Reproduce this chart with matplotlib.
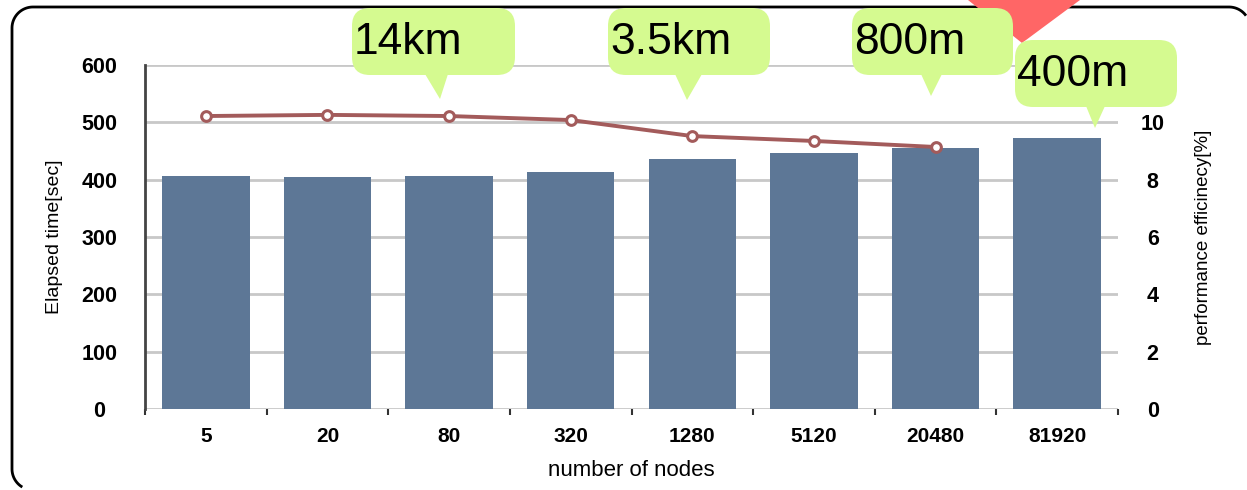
import matplotlib
matplotlib.use("Agg")
import matplotlib.pyplot as plt
from matplotlib.patches import FancyBboxPatch, Polygon, PathPatch
from matplotlib.path import Path
import numpy as np

plt.rcParams["font.family"] = ["Liberation Sans", "DejaVu Sans"]
plt.rcParams["path.simplify"] = False

# ---- data -------------------------------------------------------------
nodes = ["5", "20", "80", "320", "1280", "5120", "20480", "81920"]
elapsed_sec = [406, 405, 406, 413, 436, 446, 455, 473]
efficiency_pct = [10.22, 10.26, 10.22, 10.08, 9.52, 9.35, 9.14]
left_ticks = [0, 100, 200, 300, 400, 500, 600]
right_ticks = [0, 2, 4, 6, 8, 10]
callout_texts = ["14km", "3.5km", "800m", "400m"]

# ---- figure geometry (pixels) ------------------------------------------
W, H = 1247, 490
fig = plt.figure(figsize=(W / 100, H / 100), dpi=100)

ax_l, ax_r, ax_t, ax_b = 145, 1118, 65, 409
ax = fig.add_axes([ax_l / W, 1 - ax_b / H, (ax_r - ax_l) / W, (ax_b - ax_t) / H])

x = np.arange(len(nodes))
bar_color = "#5d7796"
line_color = "#a35b5b"

ax.bar(x, elapsed_sec, width=0.72, color=bar_color, edgecolor="none", zorder=2)
ax.set_xlim(-0.5, len(nodes) - 0.5)
ax.set_ylim(0, 600)
ax.set_yticks(left_ticks)
ax.yaxis.grid(True, color="#c8c8c8", lw=2, zorder=0)
ax.set_axisbelow(True)
for s in ["top", "right", "bottom"]:
    ax.spines[s].set_visible(False)
ax.spines["left"].set_color("#444444")
ax.spines["left"].set_linewidth(2)

ax.set_xticks(x)
ax.set_xticklabels(nodes, fontsize=15, fontweight="bold")
ax.set_xticks(np.arange(-0.5, len(nodes), 1.0), minor=True)
ax.tick_params(axis="x", which="major", length=0, pad=13)
ax.tick_params(axis="x", which="minor", length=4, width=1.5, color="#333333", direction="out")
ax.tick_params(axis="y", length=0, pad=33)
for lab in ax.get_yticklabels():
    lab.set_horizontalalignment("center")
    lab.set_fontsize(15.5)
    lab.set_fontweight("bold")

ax.set_xlabel("number of nodes", fontsize=16, labelpad=10)
ax.set_ylabel("Elapsed time[sec]", fontsize=14, labelpad=13)

ax2 = ax.twinx()
ax2.set_ylim(0, 12)
ax2.set_yticks(right_ticks)
for s in ["top", "right", "bottom", "left"]:
    ax2.spines[s].set_visible(False)
ax2.tick_params(axis="y", length=0, pad=25)
for lab in ax2.get_yticklabels():
    lab.set_horizontalalignment("center")
    lab.set_fontsize(15.5)
    lab.set_fontweight("bold")
ax2.set_ylabel("performance efficinecy[%]", fontsize=13.5, labelpad=22)
ax2.plot(x[:len(efficiency_pct)], efficiency_pct, color=line_color, lw=2.8,
         marker="o", ms=7, mfc="white", mec=line_color, mew=2.2, zorder=3)

# ---- overlay in pixel units for the frame and callouts -----------------
ov = fig.add_axes([0, 0, 1, 1], zorder=10)
ov.set_xlim(0, W)
ov.set_ylim(H, 0)
ov.axis("off")
ov.patch.set_alpha(0)

# rounded outer frame; only the part inside the canvas is traced
fl, ft, fb, r = 12, 7, 490, 21
a_bl = np.linspace(np.pi, np.pi * 1.33, 20)          # bottom-left corner (partial)
bl = np.column_stack([fl + r + r * np.cos(a_bl), fb - r - r * np.sin(a_bl)])[::-1]
a_tl = np.linspace(np.pi, np.pi / 2, 30)             # top-left corner
tl = np.column_stack([fl + r + r * np.cos(a_tl), ft + r - r * np.sin(a_tl)])
cx = 1229
a_tr = np.linspace(np.pi / 2, np.arccos((1246 - cx) / r), 20)   # top-right corner (partial)
tr = np.column_stack([cx + r * np.cos(a_tr), ft + r - r * np.sin(a_tr)])
frame_pts = np.vstack([bl, tl, tr])
ov.add_patch(PathPatch(Path(frame_pts), fill=False, edgecolor="black", lw=2, zorder=1))

green = "#d5fa90"
boxes = [(352, 8, 515, 75), (608, 8, 770, 75), (852, 8, 1013, 75), (1015, 40, 1177, 107)]
pointers = [((425, 448), 440, 99), ((675, 702), 687, 100),
            ((921, 942), 931, 96), ((1086, 1105), 1095, 128)]

# red marker at the top edge
ov.add_patch(Polygon([(968, 0), (1080, 0), (1022, 43)], closed=True,
                     facecolor="#ff6666", edgecolor="none", zorder=2))

for (x0, y0, x1, y1), (base, tx, ty), label in zip(boxes, pointers, callout_texts):
    ov.add_patch(FancyBboxPatch((x0, y0), x1 - x0, y1 - y0,
                                boxstyle="round,pad=0,rounding_size=18",
                                facecolor=green, edgecolor="none", zorder=3))
    ov.add_patch(Polygon([(base[0], y1 - 1), (base[1], y1 - 1), (tx, ty)], closed=True,
                         facecolor=green, edgecolor="none", zorder=3))
    ov.text(x0 + 2, (y0 + y1) / 2 + 1, label, fontsize=32,
            ha="left", va="center", color="black", zorder=4)

fig.savefig("out.png", dpi=100)
